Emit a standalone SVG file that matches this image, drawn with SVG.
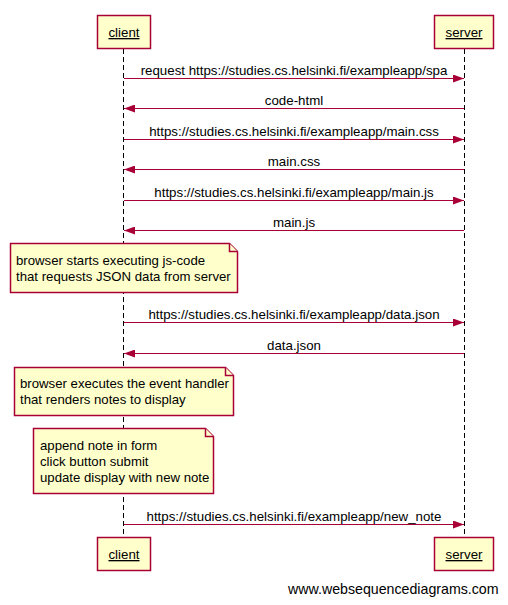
<svg xmlns="http://www.w3.org/2000/svg" width="508" height="605" viewBox="0 0 508 605">
<defs>
<style>
.box{fill:#FFFFCC;stroke:#A80036;stroke-width:1.5}
.life{stroke:#000;stroke-width:1;stroke-dasharray:5,3}
.msg{stroke:#A80036;stroke-width:1.2;fill:none}
.t{font-family:"Liberation Sans",Arial,sans-serif;font-size:13.2px;fill:#000}
.m{font-size:13.3px;text-anchor:middle}
.lbl{text-anchor:middle;font-size:13.3px}
.u{text-decoration:underline}
</style>
<marker id="ah" markerWidth="11" markerHeight="8" refX="11" refY="4" orient="auto" markerUnits="userSpaceOnUse">
<path d="M0,0 L11,4 L0,8 Z" fill="#A80036"/>
</marker>
</defs>
<rect width="508" height="605" fill="#fff"/>
<g id="lifelines">
<line class="life" x1="123.5" y1="49" x2="123.5" y2="537"/>
<line class="life" x1="464.5" y1="49" x2="464.5" y2="537"/>
</g>
<g id="client-top"><rect class="box" x="97.5" y="15.5" width="53" height="33"/><text class="t lbl u" x="124" y="37">client</text></g>
<g id="server-top"><rect class="box" x="434.5" y="15.5" width="59" height="33"/><text class="t lbl u" x="464" y="37">server</text></g>
<g id="client-bottom"><rect class="box" x="97.5" y="537.5" width="53" height="33"/><text class="t lbl u" x="124" y="559">client</text></g>
<g id="server-bottom"><rect class="box" x="434.5" y="537.5" width="59" height="33"/><text class="t lbl u" x="464" y="559">server</text></g>
<g id="connectors">
<line class="msg" x1="124" y1="78.5" x2="464" y2="78.5" marker-end="url(#ah)"/>
<text class="t m" x="294" y="75">request https://studies.cs.helsinki.fi/exampleapp/spa</text>
<line class="msg" x1="464" y1="108.5" x2="124" y2="108.5" marker-end="url(#ah)"/>
<text class="t m" x="294" y="105">code-html</text>
<line class="msg" x1="124" y1="139.5" x2="464" y2="139.5" marker-end="url(#ah)"/>
<text class="t m" x="294" y="136">https://studies.cs.helsinki.fi/exampleapp/main.css</text>
<line class="msg" x1="464" y1="169.5" x2="124" y2="169.5" marker-end="url(#ah)"/>
<text class="t m" x="294" y="166">main.css</text>
<line class="msg" x1="124" y1="200.5" x2="464" y2="200.5" marker-end="url(#ah)"/>
<text class="t m" x="294" y="197">https://studies.cs.helsinki.fi/exampleapp/main.js</text>
<line class="msg" x1="464" y1="230.5" x2="124" y2="230.5" marker-end="url(#ah)"/>
<text class="t m" x="294" y="227">main.js</text>
<line class="msg" x1="124" y1="322.5" x2="464" y2="322.5" marker-end="url(#ah)"/>
<text class="t m" x="294" y="319">https://studies.cs.helsinki.fi/exampleapp/data.json</text>
<line class="msg" x1="464" y1="353.5" x2="124" y2="353.5" marker-end="url(#ah)"/>
<text class="t m" x="294" y="350">data.json</text>
<line class="msg" x1="124" y1="524.5" x2="464" y2="524.5" marker-end="url(#ah)"/>
<text class="t m" x="294" y="521">https://studies.cs.helsinki.fi/exampleapp/new_note</text>
</g>
<g id="note1">
<path class="box" d="M10.5,243.5 H229.5 L237.5,251.5 V292.5 H10.5 Z"/>
<path class="box" d="M229.5,243.5 V251.5 H237.5" fill="none"/>
<text class="t" x="16" y="265">browser starts executing js-code</text>
<text class="t" x="16" y="281">that requests JSON data from server</text>
</g>
<g id="note2">
<path class="box" d="M14.5,367.5 H225.5 L233.5,375.5 V415.5 H14.5 Z"/>
<path class="box" d="M225.5,367.5 V375.5 H233.5" fill="none"/>
<text class="t" x="20" y="388">browser executes the event handler</text>
<text class="t" x="20" y="404">that renders notes to display</text>
</g>
<g id="note3">
<path class="box" d="M33.5,428.5 H205.5 L213.5,436.5 V493.5 H33.5 Z"/>
<path class="box" d="M205.5,428.5 V436.5 H213.5" fill="none"/>
<text class="t" x="40" y="450">append note in form</text>
<text class="t" x="40" y="466">click button submit</text>
<text class="t" x="40" y="482">update display with new note</text>
</g>
<text class="t" x="288" y="594" style="font-size:14.2px">www.websequencediagrams.com</text>
</svg>
